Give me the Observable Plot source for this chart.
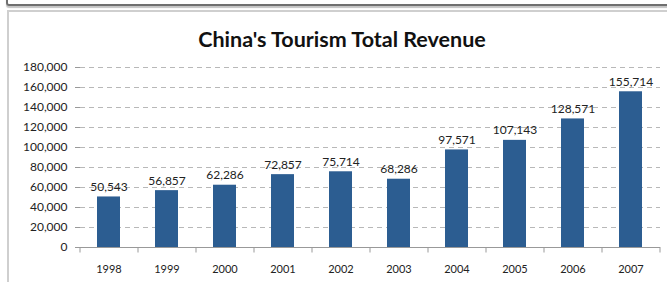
<!DOCTYPE html>
<html><head><meta charset="utf-8">
<script src="https://cdn.jsdelivr.net/npm/d3@7"></script>
<script src="https://cdn.jsdelivr.net/npm/@observablehq/plot@0.6"></script>
<style>
html,body{margin:0;padding:0;background:#fff;}
#wrap{position:relative;width:667px;height:282px;overflow:hidden;font-family:Lato,"DejaVu Sans",sans-serif;}
#frame{position:absolute;left:6px;top:-6px;width:670px;height:8px;border:2px solid #6f6f6f;border-radius:3px;box-shadow:0 2px 1px #c4c4c4;}
#box{position:absolute;left:7px;top:10px;width:670px;height:290px;border:2px solid #cfcfcf;border-right:none;border-bottom:none;}
#title{position:absolute;left:0;top:26px;width:684px;text-align:center;font-weight:bold;font-size:21.5px;color:#111;}
#chart{position:absolute;left:0;top:0;}
</style></head>
<body><div id="wrap"><div id="frame"></div><div id="box"></div><div id="chart"></div><div id="title">China's Tourism Total Revenue</div></div>
<script>
const years = ["1998","1999","2000","2001","2002","2003","2004","2005","2006","2007"];
const revenue = [50543,56857,62286,72857,75714,68286,97571,107143,128571,155714];
const yTicks = [0,20000,40000,60000,80000,100000,120000,140000,160000,180000];
const data = years.map((y,i)=>({year:y,value:revenue[i]}));
const fmt = d3.format(",");
const chart = Plot.plot({
  width:667, height:282,
  marginLeft:80, marginRight:7, marginTop:67, marginBottom:35,
  style:{fontFamily:"Lato, 'DejaVu Sans', sans-serif", fontSize:"12px", color:"#222", background:"transparent"},
  x:{domain:years, paddingInner:0.6, paddingOuter:0.3, label:null},
  y:{domain:[0,180000], label:null},
  marks:[
    Plot.ruleY(yTicks.filter(d=>d>0),{y:d=>d, stroke:"#b8b8b8", strokeDasharray:"5,4"}),
    Plot.barY(data,{x:"year", y:"value", fill:"#2c5d91"}),
    Plot.text(data,{x:"year", y:"value", text:d=>fmt(d.value), lineAnchor:"bottom", dy:-6, fill:"#222", fontSize:12}),
    Plot.ruleY([0],{stroke:"#999"}),
    Plot.ruleX([0],{stroke:"#999", frameAnchor:"left"}),
    Plot.axisY({ticks:yTicks, tickFormat:fmt, tickSize:5, tickPadding:8, stroke:"#999", fill:"#222", fontSize:12}),
    Plot.axisX({tickSize:0, tickPadding:18, fontSize:11}),
    Plot.ruleX(years,{x:d=>d, y1:0, y2:-5500, dx:-29, stroke:"#999"}),
    Plot.ruleX(years.slice(-1),{x:d=>d, y1:0, y2:-5500, dx:29, stroke:"#999"})
  ]
});
document.getElementById("chart").appendChild(chart);
</script></body></html>
